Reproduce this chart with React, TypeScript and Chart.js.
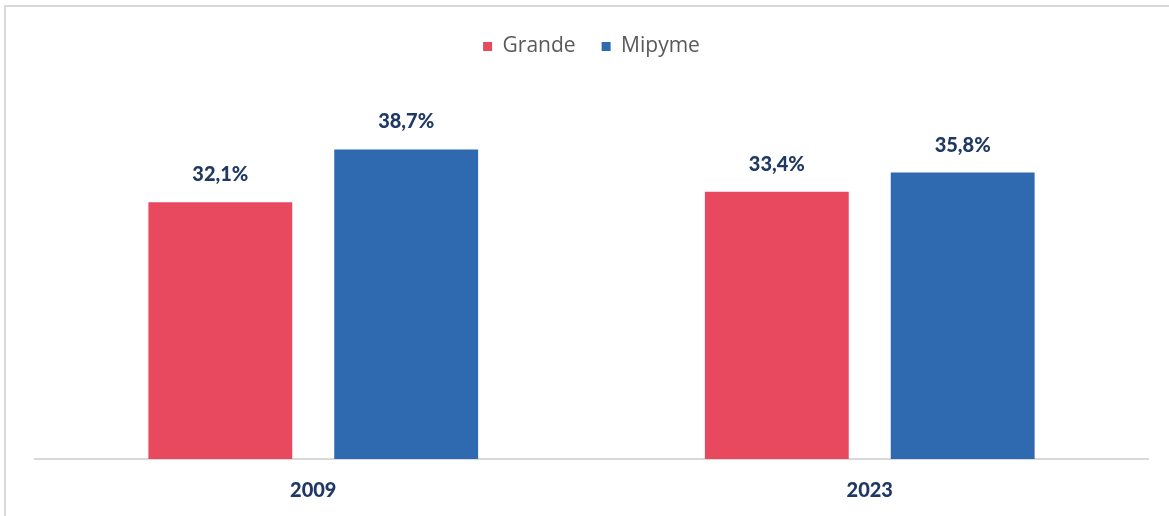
import React, { useEffect, useRef } from "react";
import { Chart, registerables } from "chart.js";

Chart.register(...registerables);

const categories = ["2009", "2023"];
const seriesNames = ["Grande", "Mipyme"];
const grandeValues = [32.1, 33.4];
const mipymeValues = [38.7, 35.8];
const seriesColors = ["#E8495F", "#2F69AF"];

const fmt = (v: number) => v.toFixed(1).replace(".", ",") + "%";

const labelPlugin = {
  id: "barLabels",
  afterDatasetsDraw(chart: any) {
    const ctx = chart.ctx;
    ctx.save();
    ctx.font = "900 20px Lato";
    ctx.fillStyle = "#203864";
    ctx.textAlign = "center";
    ctx.textBaseline = "alphabetic";
    chart.data.datasets.forEach((ds: any, i: number) => {
      const meta = chart.getDatasetMeta(i);
      meta.data.forEach((bar: any, j: number) => {
        ctx.fillText(fmt(ds.data[j]), bar.x, bar.y - 21);
      });
    });
    ctx.restore();
  },
};

export default function App() {
  const ref = useRef<HTMLCanvasElement | null>(null);
  useEffect(() => {
    if (!ref.current) return;
    const chart = new Chart(ref.current, {
      type: "bar",
      data: {
        labels: categories,
        datasets: [
          {
            label: seriesNames[0],
            data: grandeValues,
            backgroundColor: seriesColors[0],
            categoryPercentage: 0.668,
            barPercentage: 0.774,
          },
          {
            label: seriesNames[1],
            data: mipymeValues,
            backgroundColor: seriesColors[1],
            categoryPercentage: 0.668,
            barPercentage: 0.774,
          },
        ],
      },
      options: {
        animation: false,
        responsive: false,
        maintainAspectRatio: false,
        layout: { padding: { left: 35, right: 21, top: 10, bottom: 13 } },
        plugins: {
          legend: {
            display: true,
            position: "top",
            labels: {
              boxWidth: 9,
              boxHeight: 9,
              padding: 26,
              color: "#595959",
              font: { family: "'Open Sans'", size: 21 },
            },
          },
          tooltip: { enabled: false },
          title: { display: false },
        },
        scales: {
          x: {
            grid: { display: false, drawTicks: false },
            border: { display: true, color: "#D9D9D9", width: 2 },
            ticks: {
              color: "#203864",
              font: { family: "Lato", size: 20, weight: "900" },
              padding: 20,
            },
          },
          y: {
            display: false,
            min: 0,
            max: 49,
          },
        },
      },
      plugins: [labelPlugin],
    });
    return () => chart.destroy();
  }, []);

  return (
    <div
      style={{
        position: "fixed",
        left: 0,
        top: 0,
        width: 1169,
        height: 516,
        background: "#ffffff",
        overflow: "hidden",
      }}
    >
      <div
        style={{
          position: "absolute",
          left: 4,
          top: 5,
          width: 1300,
          height: 600,
          borderTop: "2px solid #D9D9D9",
          borderLeft: "2px solid #D9D9D9",
        }}
      />
      <canvas
        ref={ref}
        width={1169}
        height={536}
        style={{ position: "absolute", left: 0, top: 0, width: 1169, height: 536 }}
      />
    </div>
  );
}
